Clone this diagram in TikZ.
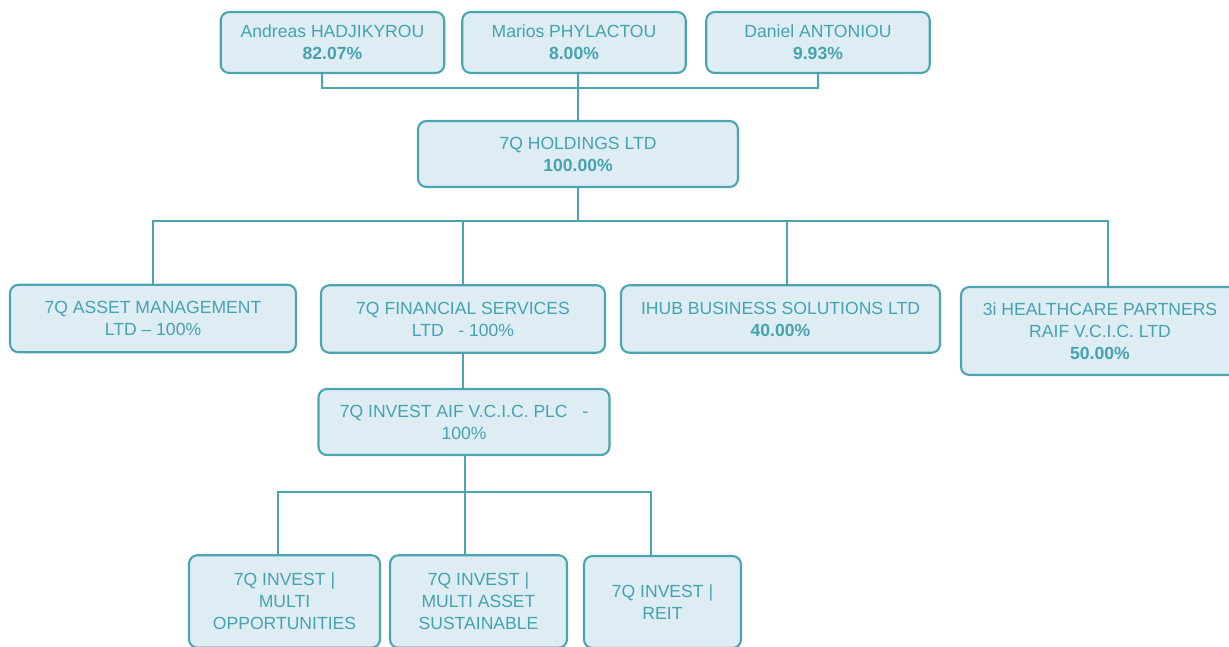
\documentclass[tikz,border=0pt]{standalone}
\usepackage{fontspec}
\setmainfont{Liberation Sans}
\usetikzlibrary{positioning}
\definecolor{tealline}{HTML}{4AA5B0}
\definecolor{tealtext}{HTML}{45A2AF}
\definecolor{boxfill}{HTML}{DDEDF3}
\tikzset{%
  % Specifications for style of nodes:
            base/.style = {rectangle, rounded corners=0.17cm, draw=tealline,
                           line width=1.2pt, fill=boxfill, inner sep=0pt,
                           align=center, text=tealtext,
                           font=\fontsize{10}{12.5}\selectfont},
        ownerbox/.style = {base, minimum width=4.47cm, minimum height=1.22cm},
       entitybox/.style = {base, minimum height=1.35cm},
         fundbox/.style = {base, minimum height=1.85cm},
            link/.style = {draw=tealline, line width=1.1pt},
}

\begin{document}
\begin{tikzpicture}
  \useasboundingbox (0,0) rectangle (24.58,-12.92);
  % Specification of nodes (position, etc.)

  \node (andreas)		[ownerbox] at (6.65,-0.85) {Andreas HADJIKYROU\\\textbf{82.07\%}};
  \node (marios)		[ownerbox] at (11.48,-0.85) {Marios PHYLACTOU\\\textbf{8.00\%}};
  \node (daniel)		[ownerbox] at (16.36,-0.85) {Daniel ANTONIOU\\\textbf{9.93\%}};
  \node (holding)		[entitybox, minimum width=6.4cm, minimum height=1.32cm] at (11.56,-3.08) {7Q HOLDINGS LTD\\\textbf{100.00\%}};

  \node (asset)			[entitybox, minimum width=5.72cm] at (3.06,-6.37) {7Q ASSET MANAGEMENT\\LTD -- 100\%};
  \node (finance)		[entitybox, minimum width=5.68cm] at (9.26,-6.38) {7Q FINANCIAL SERVICES\\LTD\ \ \ - 100\%};
  \node (ihub)			[entitybox, minimum width=6.38cm] at (15.61,-6.38) {IHUB BUSINESS SOLUTIONS LTD\\\textbf{40.00\%}};
  \node (health)		[entitybox, minimum width=5.56cm, minimum height=1.76cm] at (22.0,-6.62) {3i HEALTHCARE PARTNERS\\RAIF V.C.I.C. LTD\\\textbf{50.00\%}};

  \node (aif)			[entitybox, minimum width=5.82cm, minimum height=1.32cm] at (9.28,-8.44) {7Q INVEST AIF V.C.I.C. PLC\ \ \ -\\100\%};

  \node (multiopp)		[fundbox, minimum width=3.82cm] at (5.69,-12.03) {7Q INVEST |\\MULTI\\OPPORTUNITIES};
  \node (sustain)		[fundbox, minimum width=3.54cm] at (9.57,-12.03) {7Q INVEST |\\MULTI ASSET\\SUSTAINABLE};
  \node (reit)			[fundbox, minimum width=3.14cm, minimum height=1.84cm] at (13.25,-12.04) {7Q INVEST |\\REIT};

  \coordinate (bus1) at ([yshift=-0.66cm]holding.south);
  \coordinate (bus2) at ([xshift=0.02cm, yshift=-0.72cm]aif.south);

  % owners
  \draw[link]			([xshift=-0.21cm]andreas.south) -- ++(0,-0.28) -| (daniel.south);
  \draw[link]			(holding.north) -- (holding.north |- marios.south);

  % subsidiaries
  \draw[link]			(holding.south) -- (bus1);
  \draw[link]			(asset.north) |- (bus1) -| ([xshift=0.16cm]health.north);
  \draw[link]			(finance.north) -- (finance.north |- bus1);
  \draw[link]			([xshift=0.13cm]ihub.north) -- ([xshift=0.13cm]ihub.north |- bus1);
  \draw[link]			(finance.south) -- (finance.south |- aif.north);

  % funds
  \draw[link]			(bus2 |- aif.south) -- (bus2);
  \draw[link]			([xshift=-0.13cm]multiopp.north) |- (bus2) -| ([xshift=-0.23cm]reit.north);
  \draw[link]			(sustain.north -| bus2) -- (bus2);

\end{tikzpicture}
\end{document}
